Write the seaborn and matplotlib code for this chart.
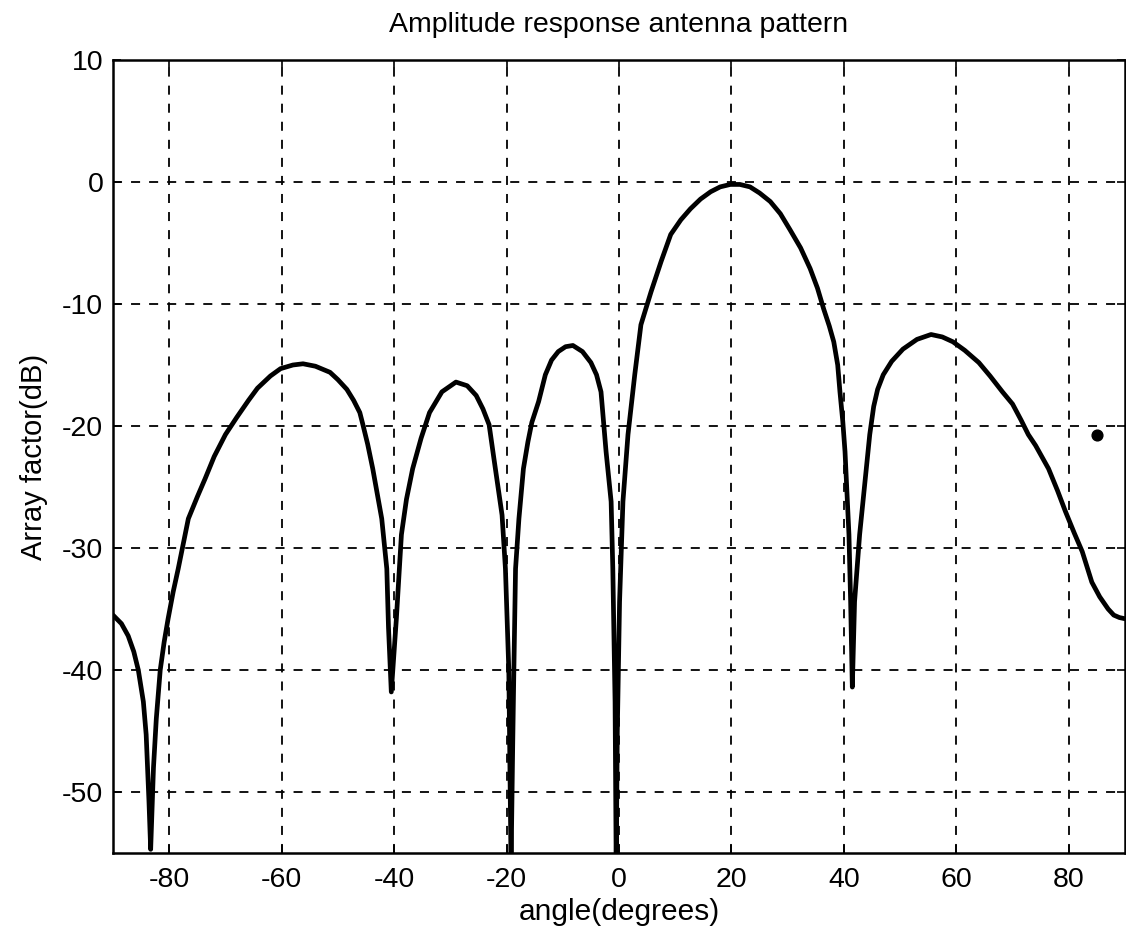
import numpy as np
import pandas as pd
import matplotlib
matplotlib.use("Agg")
import matplotlib.pyplot as plt
import seaborn as sns

# ---- data ----
angle_deg = [-90, -88.5, -87.3, -86.3, -85.5, -84.6, -84.1, -83.6, -83.3, -82.8,
             -82.3, -81.6, -80.9, -80.2, -79.3, -78.4, -76.6, -75, -73.6, -72,
             -70, -68, -65.9, -64.3, -62, -60.2, -58, -56.2, -54, -51.4,
             -50, -48.4, -47.2, -46.1, -45.6, -44.7, -43.8, -42.2, -41.3, -41.0,
             -40.5, -39.6, -38.7, -37.8, -36.7, -35.2, -33.7, -31.5, -29, -27,
             -25.4, -24.2, -23.1, -22.3, -20.8, -20.2, -19.6, -19.3, -19.2, -18.9,
             -18.7, -18.4, -17.8, -17, -16.2, -15.5, -14.3, -13.1, -12, -10.8,
             -9.5, -8.2, -6.5, -5, -4, -3.2, -2.3, -1.4, -1.1, -0.7,
             -0.5, -0.3, 0.1, 0.7, 1.6, 2.8, 3.9, 5.7, 7.5, 9.2,
             11, 12.7, 14.5, 16.3, 18, 19.8, 21.5, 23.3, 25, 26.9,
             28.7, 30.4, 32.3, 34, 35.3, 36.4, 37.4, 38.2, 38.9, 39.3,
             39.8, 40.2, 40.9, 41.2, 41.5, 41.9, 42.8, 43.7, 44.6, 45.3,
             46, 47, 48.5, 50.5, 53, 55.5, 57.5, 59.4, 61.5, 64,
             66, 68.2, 70, 71.5, 72.8, 74.1, 76.4, 78, 79.4, 81,
             82.4, 84.1, 85.5, 87, 88, 89, 90]
array_factor_db = [-35.5, -36.2, -37.2, -38.5, -40, -42.6, -45.3, -50.8, -54.7, -48,
                   -44, -40, -37.7, -35.8, -33.6, -31.7, -27.6, -25.8, -24.3, -22.5,
                   -20.7, -19.3, -17.9, -16.9, -15.9, -15.3, -15.0, -14.9, -15.1, -15.6,
                   -16.2, -17, -17.9, -18.9, -19.8, -21.5, -23.5, -27.6, -31.7, -36.5,
                   -41.8, -35.8, -28.9, -26, -23.5, -21, -18.9, -17.2, -16.4, -16.7,
                   -17.5, -18.6, -19.9, -22.5, -27.3, -31.7, -40, -52.5, -56, -46,
                   -40, -31.7, -27.6, -23.5, -21.3, -19.7, -18, -15.8, -14.6, -13.9,
                   -13.5, -13.4, -13.9, -14.8, -15.8, -17.2, -22.1, -26.2, -31.7, -42.6,
                   -56, -45, -34.4, -26.2, -20.7, -15.8, -11.7, -9, -6.5, -4.3,
                   -3.1, -2.2, -1.4, -0.8, -0.4, -0.2, -0.2, -0.4, -0.9, -1.6,
                   -2.6, -3.9, -5.4, -7.1, -8.7, -10.4, -11.8, -13.1, -15, -17.2,
                   -19.6, -22.1, -28.9, -34.4, -41.4, -34.4, -28.9, -24.8, -20.7, -18.4,
                   -17, -15.8, -14.7, -13.7, -12.9, -12.5, -12.7, -13.1, -13.8, -14.8,
                   -15.9, -17.2, -18.2, -19.5, -20.7, -21.6, -23.5, -25.3, -27, -28.8,
                   -30.3, -32.8, -34, -35, -35.5, -35.7, -35.8]
stray_x = [85.0]
stray_y = [-20.7]
x_ticks = [-80, -60, -40, -20, 0, 20, 40, 60, 80]
y_ticks = [10, 0, -10, -20, -30, -40, -50]

df = pd.DataFrame({"angle": angle_deg, "af": array_factor_db})

sns.set_theme(style="white")
plt.rcParams['font.family'] = ['Liberation Sans', 'DejaVu Sans']
plt.rcParams['axes.unicode_minus'] = False

fig = plt.figure(figsize=(11.26, 9.34), dpi=100)
ax = fig.add_axes([113/1126, 1-853/934, (1125-113)/1126, (853-60)/934])

sns.lineplot(data=df, x="angle", y="af", ax=ax, color="black", linewidth=3.4,
             estimator=None, sort=False, zorder=3)
ax.lines[0].set_solid_joinstyle("round")
ax.scatter(stray_x, stray_y, s=60, color="black", zorder=4)

ax.set_xlim(-90, 90)
ax.set_ylim(-55, 10)
ax.set_xticks(x_ticks)
ax.set_yticks(y_ticks)
ax.grid(True, color="black", linestyle=(0, (5, 5)), linewidth=1.3)
for s in ax.spines.values():
    s.set_color("black")
    s.set_linewidth(1.8)
ax.tick_params(axis="both", direction="in", length=6, width=1.2, colors="black",
               labelsize=20.5, top=True, right=True, bottom=True, left=True)
ax.tick_params(axis="y", pad=7)
ax.tick_params(axis="x", pad=10)
ax.set_title("Amplitude response antenna pattern", fontsize=20.5, pad=20, color="black")
ax.set_xlabel("angle(degrees)", fontsize=21.5, labelpad=4, color="black")
ax.set_ylabel("Array factor(dB)", fontsize=21, labelpad=10, color="black")

fig.savefig("out.png", dpi=100, facecolor="white")
